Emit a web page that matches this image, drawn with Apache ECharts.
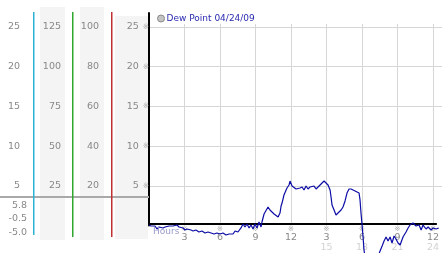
<!DOCTYPE html>
<html><head><meta charset="utf-8">
<script src="https://cdn.jsdelivr.net/npm/echarts@6/dist/echarts.min.js"></script>
<style>html,body{margin:0;padding:0;background:#fff}#c{width:442px;height:253px}</style>
</head><body><div id="c"></div>
<script>
// ---- data ----
const seriesName = 'Dew Point 04/24/09';
const hours = [0.00,0.08,0.17,0.33,0.50,0.66,0.83,0.99,1.16,1.33,1.49,1.66,1.82,1.99,2.15,2.32,2.49,2.65,2.82,2.98,
3.15,3.31,3.48,3.65,3.89,4.14,4.39,4.64,4.89,5.14,5.39,5.63,5.88,6.13,6.38,6.63,6.79,6.96,7.13,7.37,
7.62,7.79,7.95,8.12,8.29,8.45,8.62,8.78,8.95,9.11,9.28,9.36,9.53,9.69,9.86,10.02,10.19,10.36,10.52,10.69,
10.77,10.85,10.94,11.02,11.18,11.27,11.43,11.60,11.68,11.85,12.01,12.18,12.34,12.51,12.68,12.84,13.01,13.17,13.34,13.50,
13.67,13.84,14.00,14.17,14.33,14.50,14.66,14.83,15.00,15.08,15.16,15.33,15.49,15.58,15.74,15.91,16.07,16.24,16.40,16.57,
16.74,16.90,17.07,17.23,17.40,17.48,17.56,17.65,17.73,17.81,17.90,18.14,18.48,18.81,19.14,19.31,19.47,19.64,19.80,19.97,
20.13,20.30,20.46,20.63,20.80,21.04,21.29,21.46,21.62,21.87,22.12,22.37,22.54,22.70,22.95,23.12,23.36,23.53,23.78,24.00];
const dewPoint = [0.06,0.19,-0.06,-0.31,-0.06,-0.44,-0.19,-0.06,-0.31,-0.19,-0.44,-0.06,-0.31,-0.06,-0.19,0.06,-0.19,-0.44,-0.31,-0.57,
-0.44,-0.69,-0.57,-0.69,-0.57,-0.82,-0.69,-0.94,-0.82,-0.94,-1.07,-0.94,-1.07,-0.94,-1.20,-1.07,-0.82,-1.07,-0.69,-0.82,
-0.31,0.19,-0.19,0.19,-0.31,0.06,-0.44,0.19,-0.31,0.44,-0.19,0.44,1.45,1.70,2.33,1.95,1.70,1.45,1.20,1.07,
0.82,1.57,2.46,2.83,3.84,3.97,4.72,5.10,5.60,4.97,4.72,4.60,4.85,4.72,4.85,4.47,4.97,4.60,4.85,4.72,
4.97,4.60,4.85,5.10,5.35,5.60,5.48,5.10,4.47,3.59,2.58,1.95,1.32,1.07,1.70,1.95,2.33,3.09,4.09,4.60,
4.60,4.60,4.35,4.47,4.09,3.21,1.57,0.06,-1.45,-3.09,-4.09,-4.80,-5.30,-4.60,-3.21,-2.58,-1.95,-1.45,-1.95,-1.45,
-2.20,-1.32,-1.70,-2.20,-2.46,-1.45,-0.82,-0.31,0.06,0.31,-0.06,0.06,-0.57,0.06,-0.44,-0.19,-0.57,-0.31,-0.44,-0.31];
const xTickLabels   = ['', '3','6','9','12','3','6','9','12'];
const xTickLabels24 = ['', '', '', '', '', '15','18','21','24'];
const colATicks = [5,10,15,20,25];
const colBTicks = [25,50,75,100,125];
const colCTicks = [20,40,60,80,100];
const lowerLabels = ['5.8','-0.5','-5.0'];

// ---- layout ----
const PX_PER_UNIT = 7.94;
const mainTop = 13, mainH = 212.5;
const yMax = mainH / PX_PER_UNIT;
const xMax = 24.27;
const grey = '#888';
const lblFont = 'DejaVu Sans';

function tickFmt(ticks){
  return function(v){ const i = ticks.indexOf(Math.round(v*1000)/1000); return i>=0 ? String(ticks[i]) : ''; };
}
const hidX = (g)=>({type:'value', gridIndex:g, show:false, min:0, max:1});
const noLine = {show:false, onZero:false, lineStyle:{color:'rgba(0,0,0,0)', width:0}};

const chart = echarts.init(document.getElementById('c'), null, {renderer:'canvas'});
chart.setOption({
  animation:false,
  backgroundColor:'#fff',
  textStyle:{fontFamily:lblFont},
  legend:{
    left:157, top:14, padding:0, itemWidth:7, itemHeight:7, icon:'circle',
    data:[{name:seriesName, itemStyle:{color:'#c4c4c4', borderColor:'#8a8a8a', borderWidth:1}}],
    textStyle:{color:'#2b2bb0', fontSize:9, fontFamily:lblFont, padding:[0,0,0,-3]}
  },
  graphic:{elements:[
    {type:'rect', z:-10, shape:{x:40,y:7,width:25,height:233}, style:{fill:'#f4f4f4'}},
    {type:'rect', z:-10, shape:{x:80,y:7,width:24,height:233}, style:{fill:'#f4f4f4'}},
    {type:'rect', z:-10, shape:{x:115,y:16,width:33,height:223}, style:{fill:'#f4f4f4'}},
    {type:'rect', z:100, shape:{x:33,y:12,width:1.5,height:223}, style:{fill:'#2fb2d4'}},
    {type:'rect', z:100, shape:{x:72,y:12,width:1.5,height:225}, style:{fill:'#30a830'}},
    {type:'rect', z:100, shape:{x:111,y:12,width:1.5,height:225}, style:{fill:'#c03030'}},
    {type:'line', z:5, shape:{x1:0,y1:197,x2:149,y2:197}, style:{stroke:'#a9a9a9', lineWidth:2}},
    {type:'text', z:20, left:153, top:227, style:{text:'Hours', fill:'#9a9acc', font:'9px DejaVu Sans'}}
  ]},
  grid:[
    {left:149, top:mainTop, width:293, height:mainH},
    {left:149, top:24, width:293, height:201.5},
    {left:33, top:198.8, width:1, height:40}
  ],
  xAxis:[
    {type:'value', gridIndex:0, show:false, min:0, max:xMax},
    {type:'value', gridIndex:1, min:0, max:xMax, interval:3,
     axisLine:{show:true, onZero:false, lineStyle:{color:'#000', width:2}},
     axisTick:{show:false},
     splitLine:{show:true, showMaxLine:false, lineStyle:{color:'#d6d6d6', width:1}},
     axisLabel:{margin:1, showMaxLabel:false, showMinLabel:false,
       formatter:function(v){
         const i = Math.round(v/3);
         if (Math.abs(v - i*3) > 1e-6 || !xTickLabels[i]) return '';
         let s = '{s|※}\n{v|' + xTickLabels[i] + '}';
         if (xTickLabels24[i]) s += '\n{f|' + xTickLabels24[i] + '}';
         return s;
       },
       rich:{
         s:{fontSize:7.5, color:'#aaa', lineHeight:8, fontFamily:lblFont},
         v:{fontSize:9.5, color:grey, lineHeight:10, fontFamily:lblFont},
         f:{fontSize:9.5, color:'#d2d2d2', lineHeight:10, fontFamily:lblFont}
       }}},
    hidX(2)
  ],
  yAxis:[
    {type:'value', gridIndex:0, min:0, max:yMax, interval:5, position:'left',
     axisLine:{show:true, onZero:false, lineStyle:{color:'#000', width:2}},
     axisTick:{show:false},
     splitLine:{show:true, showMaxLine:false, showMinLine:false, lineStyle:{color:'#d6d6d6', width:1}},
     axisLabel:{margin:0, showMaxLabel:false,
       formatter:function(v){ const t = tickFmt(colATicks)(v); return t ? '{v|'+t+'} {s|※}' : ''; },
       rich:{v:{fontSize:9.5, color:grey, fontFamily:lblFont}, s:{fontSize:7.5, color:'#aaa', fontFamily:lblFont}}}},
    {type:'value', gridIndex:0, min:0, max:yMax, interval:5, position:'left', offset:116,
     axisLine:noLine, axisTick:{show:false}, splitLine:{show:false},
     axisLabel:{margin:13, showMaxLabel:false, color:grey, fontSize:9.5, fontFamily:lblFont, formatter:tickFmt(colATicks)}},
    {type:'value', gridIndex:0, min:0, max:yMax*5, interval:25, position:'left', offset:77,
     axisLine:noLine, axisTick:{show:false}, splitLine:{show:false},
     axisLabel:{margin:11, showMaxLabel:false, color:grey, fontSize:9.5, fontFamily:lblFont, formatter:tickFmt(colBTicks)}},
    {type:'value', gridIndex:0, min:0, max:yMax*4, interval:20, position:'left', offset:38,
     axisLine:noLine, axisTick:{show:false}, splitLine:{show:false},
     axisLabel:{margin:12, showMaxLabel:false, color:grey, fontSize:9.5, fontFamily:lblFont, formatter:tickFmt(colCTicks)}},
    {type:'value', gridIndex:1, show:false, min:0, max:1},
    {type:'category', gridIndex:2, data:lowerLabels, inverse:true, position:'left',
     axisLine:noLine, axisTick:{show:false}, splitLine:{show:false},
     axisLabel:{margin:6, color:grey, fontSize:9.5, fontFamily:lblFont}}
  ],
  series:[{
    name:seriesName, type:'line', xAxisIndex:0, yAxisIndex:0, clip:false,
    showSymbol:false, symbol:'none', z:10,
    lineStyle:{color:'#0c0ca6', width:1.2},
    itemStyle:{color:'#0c0ca6'},
    data: hours.map((h,i)=>[h, dewPoint[i]])
  }]
});
</script></body></html>
